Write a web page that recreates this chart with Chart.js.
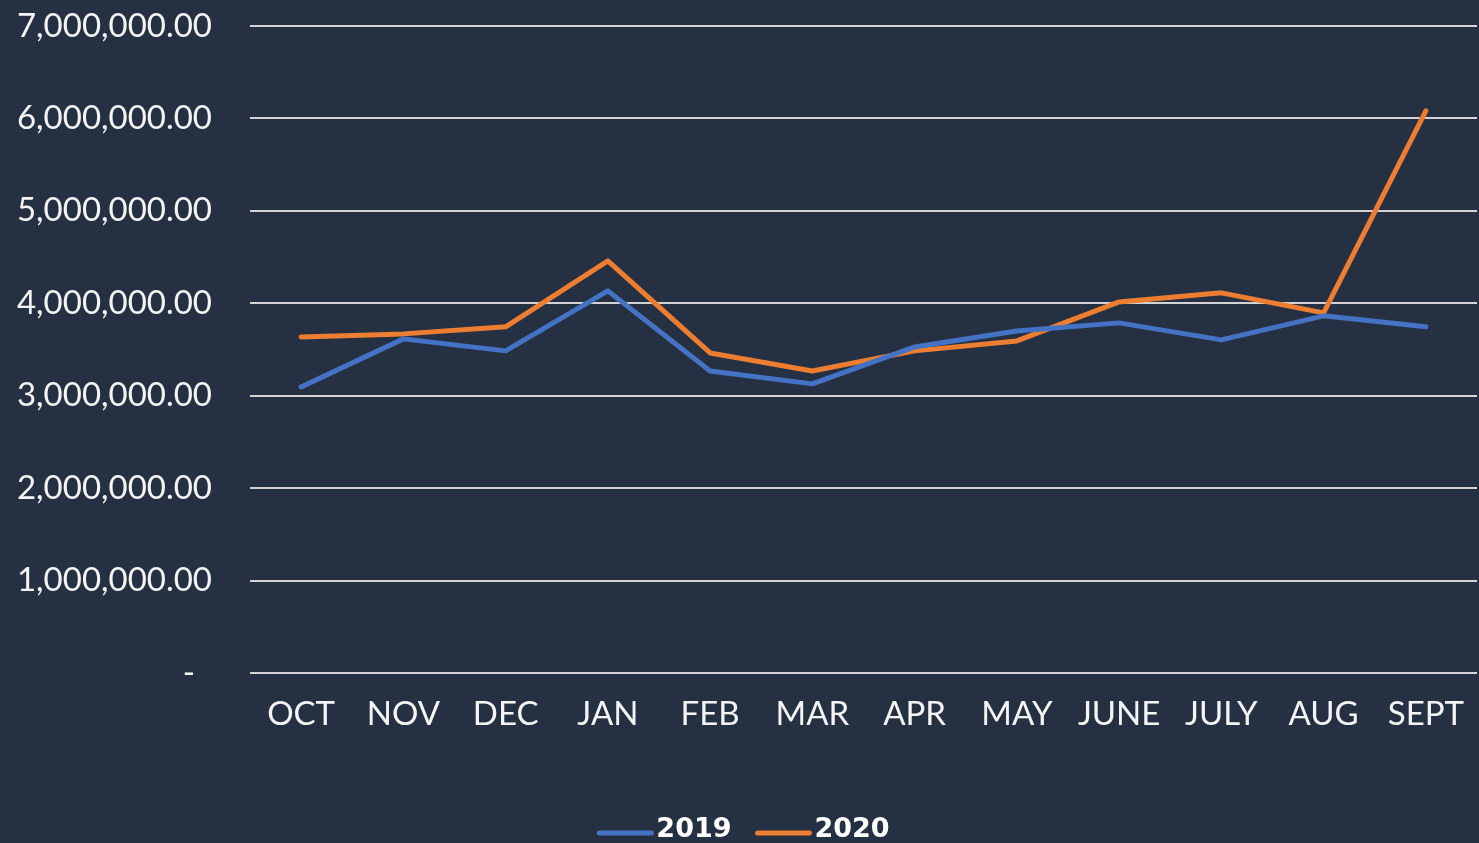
<!DOCTYPE html>
<html>
<head>
<meta charset="utf-8">
<script src="https://cdn.jsdelivr.net/npm/chart.js@4/dist/chart.umd.min.js"></script>
<style>
html,body{margin:0;padding:0;background:#253142;overflow:hidden;}
#wrap{width:1479px;height:843px;position:relative;}
</style>
</head>
<body>
<div id="wrap"><canvas id="c"></canvas></div>
<script>
const months = ['OCT','NOV','DEC','JAN','FEB','MAR','APR','MAY','JUNE','JULY','AUG','SEPT'];
const sales2019 = [3095000,3615000,3485000,4134000,3268000,3128000,3528000,3700000,3788000,3604000,3864000,3745000];
const sales2020 = [3636000,3669000,3745000,4459000,3463000,3268000,3485000,3593000,4015000,4113000,3896000,6082000];
const yMax = 7000000;
const yStep = 1000000;

const bgPlugin = {
  id: 'bg',
  beforeDraw(chart){
    const ctx = chart.ctx;
    ctx.save();
    ctx.fillStyle = '#253142';
    ctx.fillRect(0,0,chart.width,chart.height);
    ctx.restore();
  }
};

const legendPlugin = {
  id: 'customLegend',
  afterDraw(chart){
    const ctx = chart.ctx;
    const ds = chart.data.datasets;
    const lineLen = 56, gap = 3, between = 24, cy = 830;
    ctx.save();
    ctx.font = 'bold 27px "DejaVu Sans"';
    ctx.textBaseline = 'middle';
    const widths = ds.map(d => lineLen + gap + ctx.measureText(d.label).width);
    const total = widths.reduce((a,b)=>a+b,0) + between*(ds.length-1);
    let x = chart.width/2 - total/2 + 4;
    ds.forEach((d,i) => {
      ctx.strokeStyle = d.borderColor;
      ctx.lineWidth = 5;
      ctx.lineCap = 'round';
      ctx.beginPath();
      ctx.moveTo(x+2, cy+3);
      ctx.lineTo(x+lineLen-2, cy+3);
      ctx.stroke();
      ctx.fillStyle = '#ffffff';
      ctx.fillText(d.label, x + lineLen + gap, cy);
      x += widths[i] + between;
    });
    ctx.restore();
  }
};

new Chart(document.getElementById('c'), {
  type: 'line',
  data: {
    labels: months,
    datasets: [
      {label:'2019', data:sales2019, borderColor:'#4472C4', backgroundColor:'#4472C4', borderWidth:5, pointRadius:0, tension:0, borderCapStyle:'round', borderJoinStyle:'round'},
      {label:'2020', data:sales2020, borderColor:'#ED7D31', backgroundColor:'#ED7D31', borderWidth:5, pointRadius:0, tension:0, borderCapStyle:'round', borderJoinStyle:'round'}
    ]
  },
  options: {
    responsive: true,
    maintainAspectRatio: false,
    animation: false,
    layout: {padding: {top: 26, right: 2, left: 0, bottom: 30}},
    plugins: {
      tooltip: {enabled: false},
      legend: {display: false}
    },
    scales: {
      x: {
        offset: true,
        grid: {display: false, drawTicks: false},
        border: {display: false},
        ticks: {color: '#f4f4f4', font: {family: 'Lato', size: 33}, padding: 22, maxRotation: 0, autoSkip: false},
        afterFit(scale){ scale.height = 140; scale.paddingLeft = 0; scale.paddingRight = 0; }
      },
      y: {
        min: 0, max: yMax,
        grid: {color: '#d4d4d4', lineWidth: 2, drawTicks: false},
        border: {display: false},
        ticks: {
          stepSize: yStep,
          color: '#f4f4f4',
          font: {family: 'Lato', size: 33},
          padding: 38,
          callback(v){
            if (v === 0) return '-\u00a0\u00a0';
            return v.toLocaleString('en-US',{minimumFractionDigits:2, maximumFractionDigits:2});
          }
        },
        afterFit(scale){ scale.width = 250; scale.paddingTop = 0; scale.paddingBottom = 0; }
      }
    }
  },
  plugins: [bgPlugin, legendPlugin]
});
</script>
</body>
</html>
